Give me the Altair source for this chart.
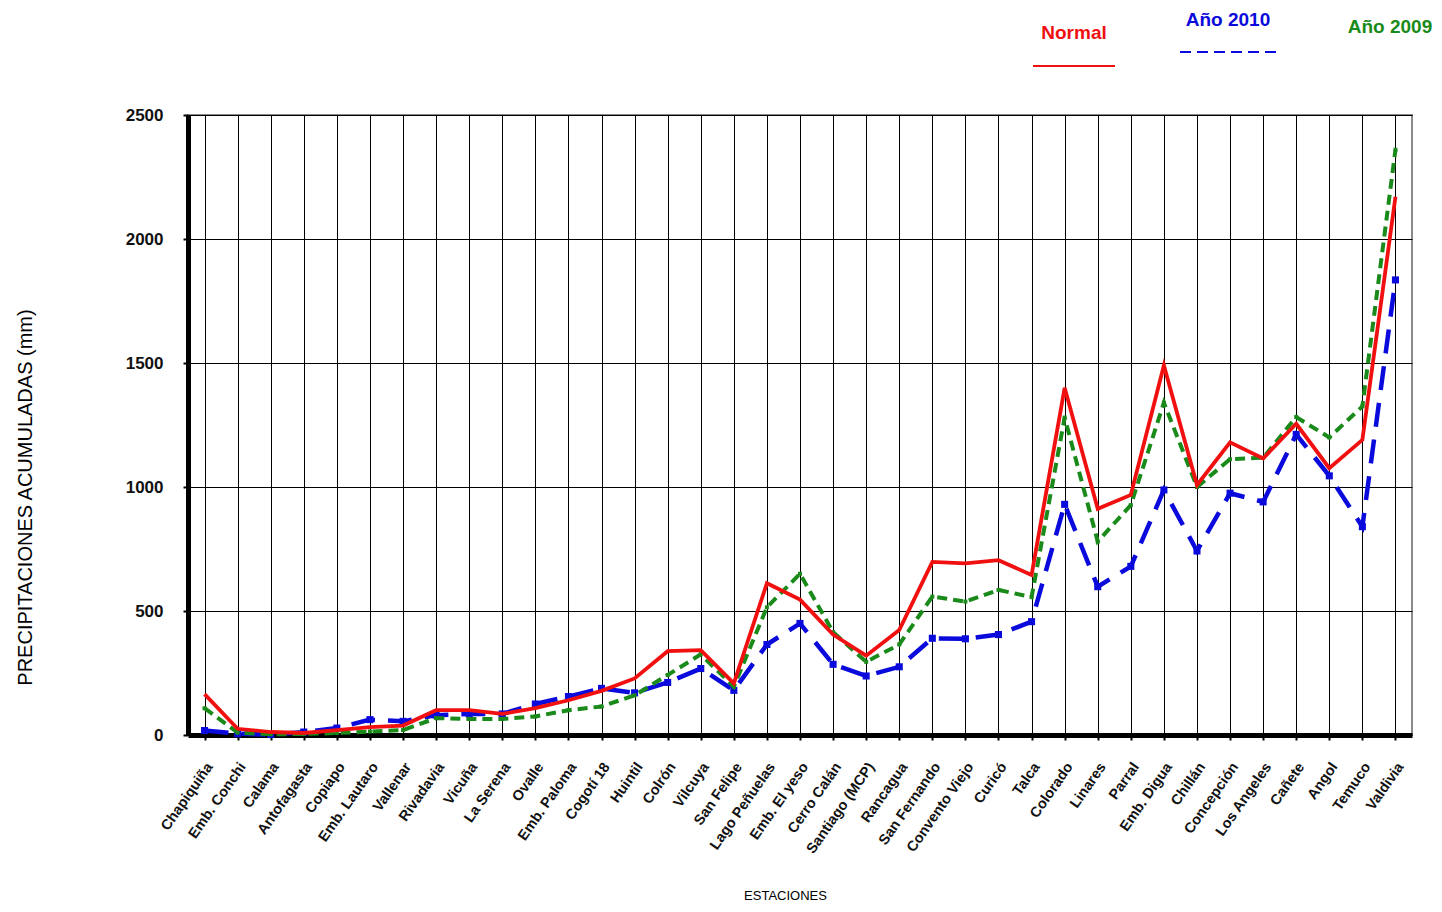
import altair as alt
import pandas as pd

stations = ["Chapiquiña", "Emb. Conchi", "Calama", "Antofagasta", "Copiapo", "Emb. Lautaro",
            "Vallenar", "Rivadavia", "Vicuña", "La Serena", "Ovalle", "Emb. Paloma", "Cogotí 18",
            "Huintil", "Colrón", "Vilcuya", "San Felipe", "Lago Peñuelas", "Emb. El yeso",
            "Cerro Calán", "Santiago (MCP)", "Rancagua", "San Fernando", "Convento Viejo", "Curicó",
            "Talca", "Colorado", "Linares", "Parral", "Emb. Digua", "Chillán", "Concepción",
            "Los Angeles", "Cañete", "Angol", "Temuco", "Valdivia"]

normal = [165, 25, 12, 8, 20, 32, 38, 100, 100, 85, 108, 140, 178, 228, 338, 342, 208, 612, 546,
          405, 320, 423, 698, 692, 705, 645, 1400, 912, 968, 1490, 1008, 1180, 1115, 1255, 1076,
          1190, 2170]
anio_2010 = [18, 5, 2, 12, 28, 62, 55, 80, 85, 85, 125, 155, 188, 170, 212, 268, 180, 365, 450,
             285, 238, 275, 390, 388, 405, 457, 930, 598, 680, 988, 742, 975, 940, 1212, 1045,
             840, 1835]
anio_2009 = [108, 10, 3, 4, 8, 14, 20, 68, 65, 65, 75, 100, 115, 160, 242, 325, 195, 515, 650,
             415, 295, 365, 558, 538, 585, 556, 1280, 780, 927, 1340, 1000, 1112, 1118, 1282, 1200,
             1325, 2360]

series_names = ["Normal", "Año 2010", "Año 2009"]
y_ticks = [0, 500, 1000, 1500, 2000, 2500]

RED = "#F01010"
BLUE = "#0A0ADC"
GREEN = "#1A8A1A"
FONT = "Liberation Sans"


def frame(vals, name):
    return pd.DataFrame({"Estación": stations, "mm": vals, "Serie": name})


x_enc = alt.X(
    "Estación:N",
    sort=stations,
    scale=alt.Scale(paddingInner=0, paddingOuter=0),
    axis=alt.Axis(
        bandPosition=0,
        labelOffset=5,
        labelAngle=-55,
        labelAlign="right",
        labelBaseline="middle",
        labelFont=FONT,
        labelFontSize=14.5,
        labelFontWeight="bold",
        labelColor="#111",
        labelPadding=24,
        labelOverlap=False,
        labelLimit=250,
        tickSize=5,
        tickWidth=2,
        tickColor="black",
        domainColor="black",
        domainWidth=5,
        grid=True,
        gridColor="black",
        gridWidth=1,
        gridOpacity=1,
        title="ESTACIONES",
        titleFont=FONT,
        titleFontSize=13,
        titleFontWeight="normal",
        titleX=597,
        titleY=160,
        titleAlign="center",
        titleBaseline="middle",
    ),
)

y_enc = alt.Y(
    "mm:Q",
    scale=alt.Scale(domain=[0, 2500], nice=False),
    axis=alt.Axis(
        values=y_ticks,
        format="d",
        labelFont=FONT,
        labelFontSize=17,
        labelFontWeight="bold",
        labelColor="#111",
        labelPadding=20,
        tickSize=5,
        tickWidth=2,
        tickColor="black",
        domainColor="black",
        domainWidth=5,
        grid=True,
        gridColor="black",
        gridWidth=1,
        gridOpacity=1,
        title="PRECIPITACIONES ACUMULADAS (mm)",
        titleFont=FONT,
        titleFontSize=20,
        titleFontWeight="normal",
        titleX=-163,
        titleY=382,
        titleAngle=-90,
        titleAlign="center",
        titleBaseline="middle",
    ),
)

blue_line = alt.Chart(frame(anio_2010, series_names[1])).mark_line(
    color=BLUE, strokeWidth=4.5, strokeDash=[24, 13]
).encode(x=x_enc, y=y_enc)
blue_pts = alt.Chart(frame(anio_2010, series_names[1])).mark_square(
    color=BLUE, size=50, opacity=1
).encode(x=x_enc, y=y_enc)

green_line = alt.Chart(frame(anio_2009, series_names[2])).mark_line(
    color=GREEN, strokeWidth=4, strokeDash=[10, 6]
).encode(x=x_enc, y=y_enc)
green_pts = alt.Chart(frame(anio_2009, series_names[2])).mark_square(
    color=GREEN, size=16, opacity=1
).encode(x=x_enc, y=y_enc)

red_line = alt.Chart(frame(normal, series_names[0])).mark_line(
    color=RED, strokeWidth=3.8
).encode(x=x_enc, y=y_enc)

legend_df = pd.DataFrame({"t": series_names})

leg_normal = alt.Chart(legend_df).transform_filter(alt.datum.t == series_names[0]).mark_text(
    font=FONT, fontSize=19, fontWeight="bold", color=RED, align="center", baseline="middle"
).encode(text="t:N", x=alt.value(886), y=alt.value(-82))
leg_2010 = alt.Chart(legend_df).transform_filter(alt.datum.t == series_names[1]).mark_text(
    font=FONT, fontSize=19, fontWeight="bold", color=BLUE, align="center", baseline="middle"
).encode(text="t:N", x=alt.value(1040), y=alt.value(-95))
leg_2009 = alt.Chart(legend_df).transform_filter(alt.datum.t == series_names[2]).mark_text(
    font=FONT, fontSize=19, fontWeight="bold", color=GREEN, align="center", baseline="middle"
).encode(text="t:N", x=alt.value(1202), y=alt.value(-88))

rule_red = alt.Chart(legend_df).transform_filter(alt.datum.t == series_names[0]).mark_rule(
    color=RED, strokeWidth=2
).encode(x=alt.value(845), x2=alt.value(927), y=alt.value(-49))
rule_blue = alt.Chart(legend_df).transform_filter(alt.datum.t == series_names[1]).mark_rule(
    color=BLUE, strokeWidth=2, strokeDash=[11, 6]
).encode(x=alt.value(992), x2=alt.value(1090), y=alt.value(-63))

chart = alt.layer(
    blue_line, blue_pts, green_line, green_pts, red_line,
    leg_normal, leg_2010, leg_2009, rule_red, rule_blue
).properties(
    width=1224,
    height=620,
    padding={"left": 180, "top": 107, "right": 22, "bottom": 169},
    autosize=alt.AutoSizeParams(type="none"),
    background="white",
).configure_view(
    stroke="#8a8a8a", strokeWidth=2
)

chart.save("out.html", embed_options={"renderer": "svg", "actions": False})
